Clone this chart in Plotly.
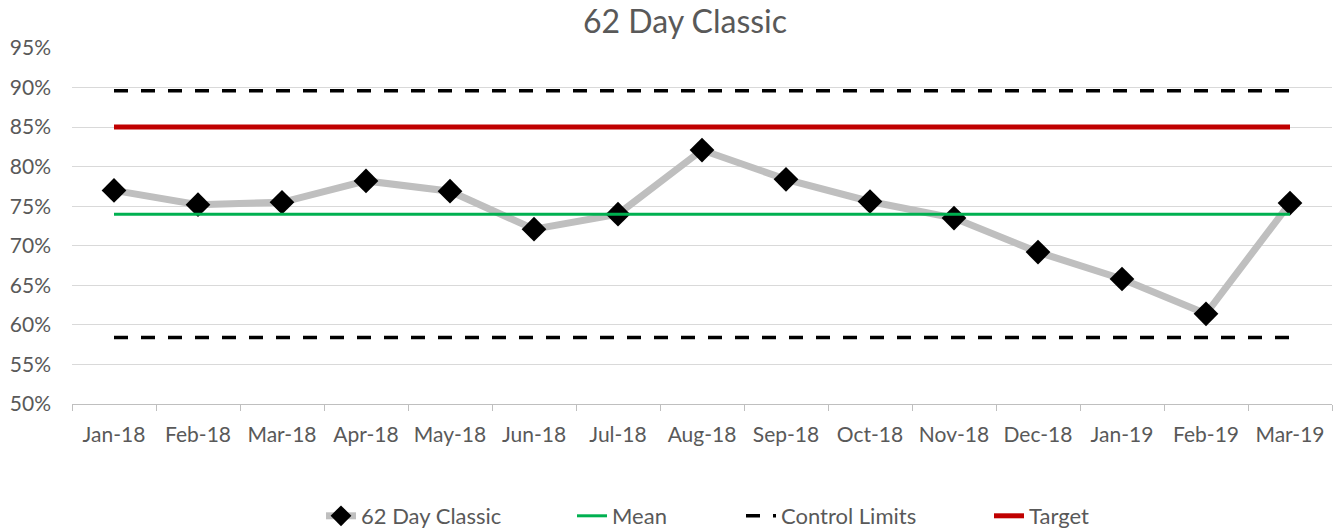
import plotly.graph_objects as go

months = ["Jan-18", "Feb-18", "Mar-18", "Apr-18", "May-18", "Jun-18", "Jul-18",
          "Aug-18", "Sep-18", "Oct-18", "Nov-18", "Dec-18", "Jan-19", "Feb-19", "Mar-19"]
classic_62 = [0.770, 0.752, 0.755, 0.782, 0.769, 0.721, 0.740,
              0.821, 0.784, 0.756, 0.735, 0.692, 0.658, 0.614, 0.754]
mean_value = 0.740
upper_limit = 0.896
lower_limit = 0.584
target_value = 0.85

FONT = "Lato"
GREY_TEXT = "#595959"
DASH = "14px,13px"
W, H = 1337, 530

n = len(months)
fig = go.Figure()

fig.add_trace(go.Scatter(
    x=months, y=classic_62, name="62 Day Classic", mode="lines+markers",
    line=dict(color="#bfbfbf", width=7),
    marker=dict(symbol="diamond", size=19, color="#000000"),
    legend="legend",
))
fig.add_trace(go.Scatter(
    x=months, y=[mean_value] * n, name="Mean", mode="lines",
    line=dict(color="#00b050", width=3),
    legend="legend2",
))
fig.add_trace(go.Scatter(
    x=months, y=[upper_limit] * n, name="Control Limits", mode="lines",
    line=dict(color="#000000", width=3.5, dash=DASH),
    legendgroup="cl", legend="legend3",
))
fig.add_trace(go.Scatter(
    x=months, y=[lower_limit] * n, name="Control Limits", mode="lines",
    line=dict(color="#000000", width=3.5, dash=DASH),
    legendgroup="cl", showlegend=False, legend="legend3",
))
fig.add_trace(go.Scatter(
    x=months, y=[target_value] * n, name="Target", mode="lines",
    line=dict(color="#c00000", width=5),
    legend="legend4",
))


def legend_at(x_px):
    return dict(orientation="h", xref="container", x=x_px / W, xanchor="left",
                yref="container", y=(H - 516) / H, yanchor="middle",
                bgcolor="rgba(0,0,0,0)",
                font=dict(size=22, color=GREY_TEXT))


fig.update_layout(
    width=W, height=H,
    margin=dict(l=72, r=5, t=48, b=126, autoexpand=False),
    paper_bgcolor="white", plot_bgcolor="white",
    font=dict(family=FONT, color=GREY_TEXT, size=21),
    title=dict(text="62 Day Classic", x=685 / W, xanchor="center", y=0.958, yanchor="middle",
               font=dict(family=FONT, size=32, color=GREY_TEXT)),
    showlegend=True,
    legend=legend_at(321),
    legend2=legend_at(572),
    legend3=legend_at(741),
    legend4=legend_at(989),
    xaxis=dict(
        type="category", range=[-0.5, n - 0.5],
        showgrid=False, showline=True, linecolor="#bfbfbf", linewidth=1,
        ticks="outside", tickson="boundaries", ticklen=6, tickcolor="#bfbfbf",
        ticklabelstandoff=12,
        tickfont=dict(size=21, color=GREY_TEXT), fixedrange=True,
    ),
    yaxis=dict(
        range=[0.5, 0.95], dtick=0.05, tick0=0.5, tickformat=".0%",
        showgrid=True, gridcolor="#d9d9d9", gridwidth=1, zeroline=False,
        showline=False, ticks="", ticklabelstandoff=20,
        tickfont=dict(size=21, color=GREY_TEXT), fixedrange=True,
    ),
)

fig.write_html("out.html")
